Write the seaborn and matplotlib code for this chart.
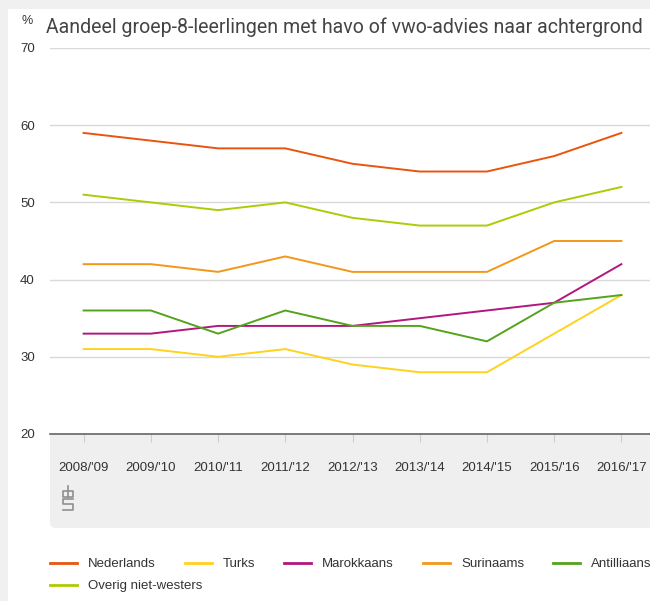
import pandas as pd
import matplotlib.pyplot as plt
import seaborn as sns
from matplotlib.patches import FancyBboxPatch, Rectangle
from matplotlib.lines import Line2D

# data
years = ["2008/'09", "2009/'10", "2010/'11", "2011/'12", "2012/'13",
         "2013/'14", "2014/'15", "2015/'16", "2016/'17"]
nederlands = [59, 58, 57, 57, 55, 54, 54, 56, 59]
turks = [31, 31, 30, 31, 29, 28, 28, 33, 38]
marokkaans = [33, 33, 34, 34, 34, 35, 36, 37, 42]
surinaams = [42, 42, 41, 43, 41, 41, 41, 45, 45]
antilliaans = [36, 36, 33, 36, 34, 34, 32, 37, 38]
overig = [51, 50, 49, 50, 48, 47, 47, 50, 52]

groups = ["Nederlands", "Turks", "Marokkaans", "Surinaams", "Antilliaans",
          "Overig niet-westers"]
colors = ["#e9540e", "#ffd21e", "#b0177f", "#f39718", "#53a31d", "#afcb05"]

series = [nederlands, turks, marokkaans, surinaams, antilliaans, overig]
rows = []
for g, vals in zip(groups, series):
    for i, v in enumerate(vals):
        rows.append({"jaar": i, "groep": g, "waarde": v})
df = pd.DataFrame(rows)

W, H = 650, 601
fig = plt.figure(figsize=(W / 100, H / 100), dpi=100, facecolor="#f0f0f0")

# white panel
fig.patches.append(Rectangle((8, 0), W, H - 9, transform=None,
                             facecolor="white", edgecolor="none", zorder=-2))
# grey band under the x axis
fig.patches.append(FancyBboxPatch((50, H - 528), 700, 108, transform=None,
                                  boxstyle="round,pad=0,rounding_size=6",
                                  facecolor="#efefef", edgecolor="none",
                                  zorder=-1))

ax = fig.add_axes([50 / W, (H - 434) / H, 605 / W, 386 / H])
ax.set_zorder(1)
ax.set_facecolor("white")

sns.lineplot(data=df, x="jaar", y="waarde", hue="groep", hue_order=groups,
             palette=colors, linewidth=1.4, ax=ax, legend=False)

ax.set_xlim(-0.5, 8.5)
ax.set_ylim(20, 70)
ax.set_yticks([20, 30, 40, 50, 60, 70])
ax.set_xticks(range(len(years)))
ax.set_xticklabels(years)
ax.set_xlabel("")
ax.set_ylabel("")
for s in ["top", "right", "left"]:
    ax.spines[s].set_visible(False)
ax.spines["bottom"].set_color("#666666")
ax.spines["bottom"].set_linewidth(1.2)
ax.grid(axis="y", color="#d9d9d9", linewidth=1)
ax.set_axisbelow(True)
ax.tick_params(axis="y", length=0, pad=11, labelsize=9.5, labelcolor="#333333")
ax.tick_params(axis="x", length=6, color="#cccccc", pad=14, labelsize=9.5,
               labelcolor="#333333")
for lab in ax.get_xticklabels() + ax.get_yticklabels():
    lab.set_fontfamily(["Liberation Sans", "DejaVu Sans"])

fig.text(21 / W, 1 - 21 / H, "%", fontsize=9, color="#333333",
         ha="left", va="center", family=["Liberation Sans", "DejaVu Sans"])
fig.text(46 / W, 1 - 27 / H,
         "Aandeel groep-8-leerlingen met havo of vwo-advies naar achtergrond",
         fontsize=14.05, color="#444444", ha="left", va="center",
         family=["Roboto", "DejaVu Sans"])

# simple cbs pictogram
logo = dict(transform=None, color="#8f8f8f", linewidth=1.2)
lx, ly = 63, H - 510
for xs, ys in [
    # c
    ((lx + 5, lx, lx, lx + 5), (ly + 19, ly + 19, ly + 13, ly + 13)),
    # b
    ((lx + 5, lx + 5, lx + 10, lx + 10, lx + 5), (ly + 24, ly + 13, ly + 13, ly + 19, ly + 19)),
    # s
    ((lx + 10, lx, lx, lx + 10, lx + 10, lx), (ly + 11, ly + 11, ly + 6, ly + 6, ly, ly)),
]:
    fig.lines.append(Line2D(xs, ys, **logo))

handles = [Line2D([0], [0], color=c, linewidth=2) for c in colors]
leg_font = {"family": ["Liberation Sans", "DejaVu Sans"], "size": 9.5}
leg1 = fig.legend(handles[:5], groups[:5], loc="upper left",
                  bbox_to_anchor=(50 / W, 1 - 558 / H), ncol=5, frameon=False,
                  prop=leg_font, handlelength=2.05, handletextpad=0.85,
                  columnspacing=2.17, borderpad=0, borderaxespad=0)
leg2 = fig.legend(handles[5:], groups[5:], loc="upper left",
                  bbox_to_anchor=(50 / W, 1 - 580 / H), ncol=1, frameon=False,
                  prop=leg_font, handlelength=2.05, handletextpad=0.85,
                  borderpad=0, borderaxespad=0)
for leg in (leg1, leg2):
    for t in leg.get_texts():
        t.set_color("#333333")

fig.savefig("out.png", dpi=100, facecolor=fig.get_facecolor())
